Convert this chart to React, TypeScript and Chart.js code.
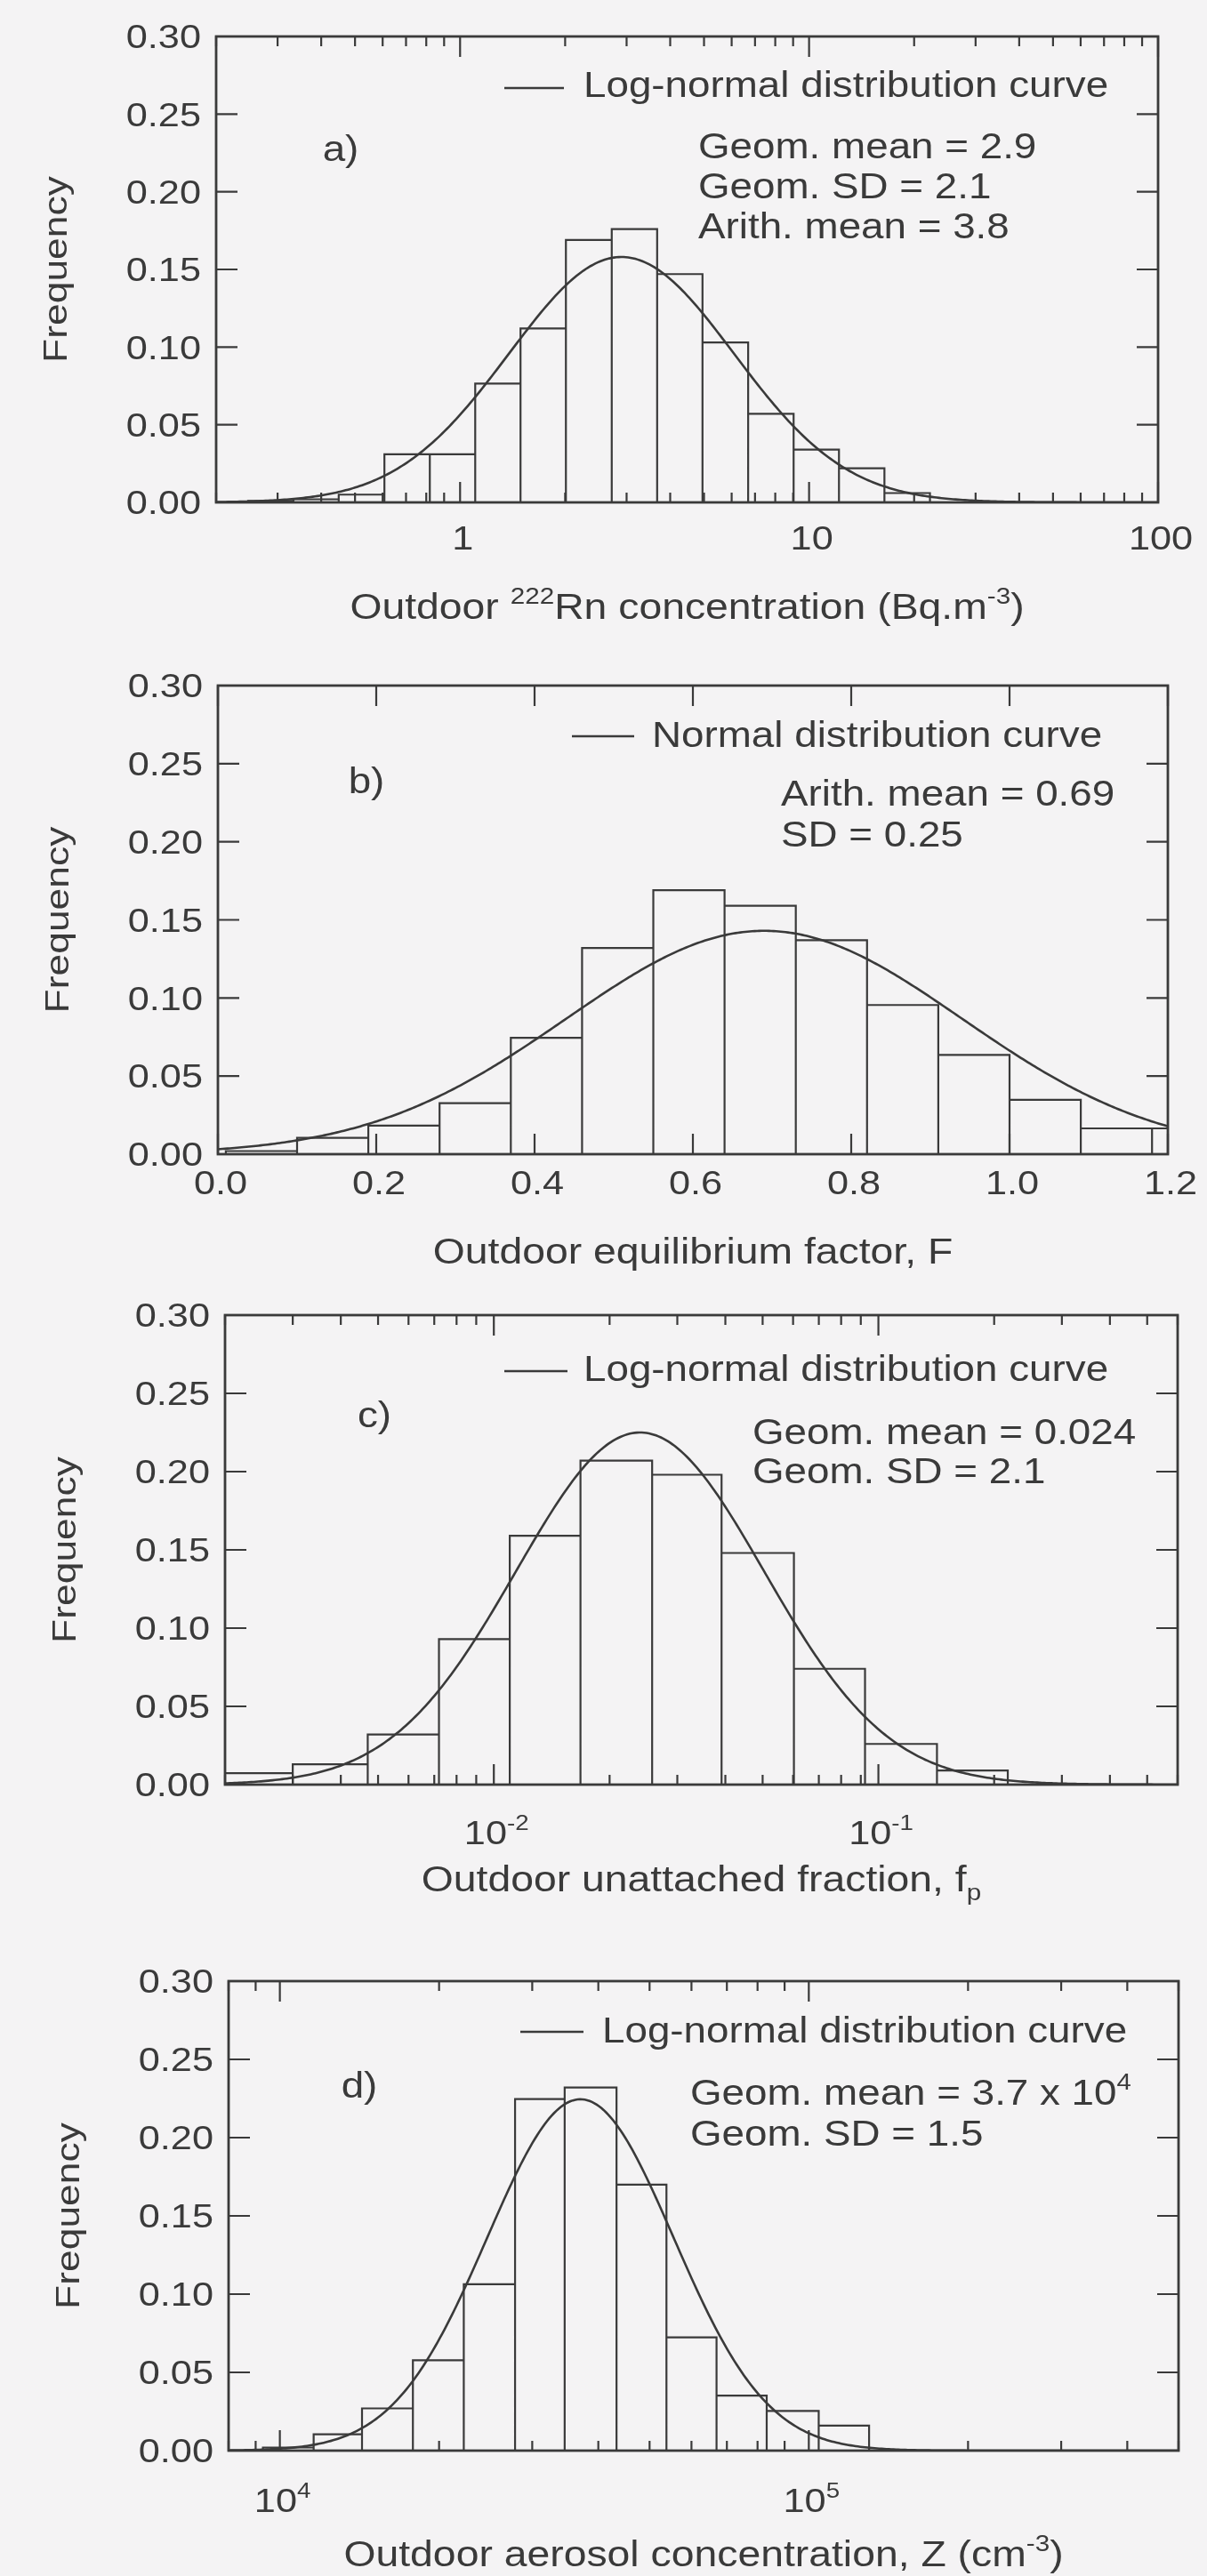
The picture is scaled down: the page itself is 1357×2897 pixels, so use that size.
import { useEffect, useRef } from 'react';
import { Chart, registerables } from 'chart.js';

Chart.register(...registerables);

const PAGE_W = 1357;
const PAGE_H = 2897;
const INK = '#3a3a3a';
const PAPER = '#f4f3f4';
const FONT = '"Liberation Sans", Arial, Helvetica, sans-serif';

// Frequency axis shared by the four histograms
const freqTicks = [0, 0.05, 0.1, 0.15, 0.2, 0.25, 0.3];
const freqTickLabels = ['0.00', '0.05', '0.10', '0.15', '0.20', '0.25', '0.30'];

// a) outdoor 222Rn concentration (Bq.m-3)
const rnEdges = [0.247, 0.333, 0.449, 0.607, 0.819, 1.105, 1.49, 2.01, 2.72, 3.67, 4.95, 6.69, 9.03, 12.18, 16.44, 22.2];
const rnFreq = [0.001, 0.002, 0.005, 0.031, 0.031, 0.0765, 0.112, 0.169, 0.176, 0.147, 0.103, 0.057, 0.034, 0.022, 0.006];
const rnGeomMean = 2.9;
const rnGeomSD = 2.1;
const rnArithMean = 3.8;
const rnCurvePeak = 0.158;
const rnTicks = [1, 10, 100];
const rnTickLabels = ['1', '10', '100'];

// b) outdoor equilibrium factor F
const eqEdges = [0.01, 0.1, 0.19, 0.28, 0.37, 0.46, 0.55, 0.64, 0.73, 0.82, 0.91, 1.0, 1.09, 1.18, 1.27];
const eqFreq = [0.002, 0.0105, 0.0183, 0.0327, 0.0745, 0.132, 0.169, 0.159, 0.137, 0.0955, 0.0636, 0.0348, 0.0165, 0.0165];
const eqMean = 0.69;
const eqSD = 0.25;
const eqCurvePeak = 0.143;
const eqTicks = [0, 0.2, 0.4, 0.6, 0.8, 1.0, 1.2];
const eqTickLabels = ['0.0', '0.2', '0.4', '0.6', '0.8', '1.0', '1.2'];

// c) outdoor unattached fraction fp
const fpEdges = [0.00196, 0.003, 0.0047, 0.0072, 0.011, 0.0168, 0.0258, 0.0391, 0.0603, 0.0923, 0.142, 0.217];
const fpFreq = [0.0073, 0.013, 0.032, 0.093, 0.159, 0.207, 0.198, 0.148, 0.074, 0.026, 0.009];
const fpGeomMean = 0.024;
const fpGeomSD = 2.1;
const fpCurvePeak = 0.225;
const fpTicks = [0.01, 0.1];
const fpTickExponents = ['-2', '-1'];

// d) outdoor aerosol concentration Z (cm-3)
const zEdges = [9290, 11585, 14300, 17845, 22270, 27840, 34550, 43300, 53810, 66920, 83250, 104400, 130000];
const zFreq = [0.002, 0.0104, 0.027, 0.0577, 0.1063, 0.2247, 0.232, 0.17, 0.0724, 0.0352, 0.0253, 0.016];
const zGeomMean = 3.7e4;
const zGeomSD = 1.5;
const zCurvePeak = 0.2245;
const zTicks = [1e4, 1e5];
const zTickExponents = ['4', '5'];

interface Run {
  t: string;
  pos?: 'sup' | 'sub';
}

interface PanelSpec {
  top: number;
  height: number;
  area: [number, number, number, number];
  xType: 'linear' | 'logarithmic';
  xMin: number;
  xMax: number;
  edges: number[];
  freq: number[];
  curve: (x: number) => number;
  majorTicks: number[];
  minorTicks: number[];
  tickLabels: Run[][];
  xLabelBaseline: number;
  xTitle: Run[];
  xTitleBaseline: number;
  yTitleX: number;
  letter: string;
  letterX: number;
  letterBaseline: number;
  legend: string;
  legendLine: [number, number, number];
  legendTextX: number;
  legendBaseline: number;
  stats: Run[][];
  statsX: number;
  statsBaselines: number[];
}

const TEXT_SIZE = 40.5;
const TEXT_SX = 1.13;
const TICK_SIZE = 37;
const TICK_SX = 1.17;
const TITLE_SIZE = 41;
const TITLE_SX = 1.13;
const YTITLE_SIZE = 37;
const YTITLE_SX = 1.2;

const logNormalCurve = (gm: number, gsd: number, peak: number) => (x: number) =>
  peak * Math.exp(-(Math.log(x / gm) ** 2) / (2 * Math.log(gsd) ** 2));
const normalCurve = (mean: number, sd: number, peak: number) => (x: number) =>
  peak * Math.exp(-((x - mean) ** 2) / (2 * sd * sd));

function logMinorTicks(min: number, max: number): number[] {
  const out: number[] = [];
  const e0 = Math.floor(Math.log10(min));
  const e1 = Math.ceil(Math.log10(max));
  for (let e = e0; e <= e1; e++) {
    for (let k = 2; k <= 9; k++) {
      const v = k * Math.pow(10, e);
      if (v >= min * 0.999 && v <= max * 1.001) out.push(v);
    }
  }
  return out;
}

function histogramOutline(edges: number[], freq: number[]) {
  const pts: { x: number; y: number }[] = [];
  freq.forEach((f, i) => {
    pts.push({ x: edges[i], y: 0 }, { x: edges[i], y: f }, { x: edges[i + 1], y: f }, { x: edges[i + 1], y: 0 });
  });
  return pts;
}

function curvePoints(spec: PanelSpec) {
  const n = 400;
  const pts: { x: number; y: number }[] = [];
  for (let i = 0; i <= n; i++) {
    const u = i / n;
    const x =
      spec.xType === 'logarithmic'
        ? Math.pow(10, Math.log10(spec.xMin) + u * (Math.log10(spec.xMax) - Math.log10(spec.xMin)))
        : spec.xMin + u * (spec.xMax - spec.xMin);
    pts.push({ x, y: spec.curve(x) });
  }
  return pts;
}

function drawRuns(
  ctx: CanvasRenderingContext2D,
  runs: Run[],
  x: number,
  y: number,
  size: number,
  align: 'left' | 'center' | 'right',
  sx: number,
) {
  const parts = runs.map((r) => {
    const fs = r.pos ? size * 0.64 : size;
    ctx.font = `${fs}px ${FONT}`;
    return { ...r, fs, w: ctx.measureText(r.t).width * sx };
  });
  const total = parts.reduce((s, p) => s + p.w, 0);
  let cx = align === 'left' ? x : align === 'center' ? x - total / 2 : x - total;
  ctx.textAlign = 'left';
  ctx.textBaseline = 'alphabetic';
  for (const p of parts) {
    const dy = p.pos === 'sup' ? -size * 0.42 : p.pos === 'sub' ? size * 0.24 : 0;
    ctx.font = `${p.fs}px ${FONT}`;
    ctx.save();
    ctx.translate(cx, y + dy);
    ctx.scale(sx, 1);
    ctx.fillText(p.t, 0, 0);
    ctx.restore();
    cx += p.w;
  }
}

function decorations(spec: PanelSpec) {
  return {
    id: 'frameTicksText',
    afterDraw(chart: Chart) {
      const ctx = chart.ctx;
      const xs = chart.scales.x;
      const ys = chart.scales.y;
      const { left, right, top, bottom } = chart.chartArea;
      ctx.save();
      ctx.strokeStyle = INK;
      ctx.fillStyle = INK;

      // inward tick marks on all four sides
      ctx.lineWidth = 2.2;
      ctx.beginPath();
      const xTick = (v: number, len: number) => {
        const px = xs.getPixelForValue(v);
        ctx.moveTo(px, top);
        ctx.lineTo(px, top + len);
        ctx.moveTo(px, bottom);
        ctx.lineTo(px, bottom - len);
      };
      spec.majorTicks.forEach((v) => xTick(v, 23));
      spec.minorTicks.forEach((v) => xTick(v, 11));
      freqTicks.forEach((v) => {
        const py = ys.getPixelForValue(v);
        ctx.moveTo(left, py);
        ctx.lineTo(left + 24, py);
        ctx.moveTo(right, py);
        ctx.lineTo(right - 24, py);
      });
      ctx.stroke();

      // plot frame
      ctx.lineWidth = 2.8;
      ctx.strokeRect(left, top, right - left, bottom - top);

      // frequency tick labels
      freqTicks.forEach((v, i) => {
        const py = ys.getPixelForValue(v);
        drawRuns(ctx, [{ t: freqTickLabels[i] }], left - 17, py + TICK_SIZE * 0.358, TICK_SIZE, 'right', TICK_SX);
      });

      // x tick labels
      spec.majorTicks.forEach((v, i) => {
        const px = xs.getPixelForValue(v);
        drawRuns(ctx, spec.tickLabels[i], px + 3, spec.xLabelBaseline, TICK_SIZE, 'center', TICK_SX);
      });

      // axis titles
      drawRuns(ctx, spec.xTitle, (left + right) / 2, spec.xTitleBaseline, TITLE_SIZE, 'center', TITLE_SX);
      ctx.save();
      ctx.translate(spec.yTitleX, (top + bottom) / 2);
      ctx.rotate(-Math.PI / 2);
      drawRuns(ctx, [{ t: 'Frequency' }], 0, YTITLE_SIZE * 0.3, YTITLE_SIZE, 'center', YTITLE_SX);
      ctx.restore();

      // panel letter
      drawRuns(ctx, [{ t: spec.letter }], spec.letterX, spec.letterBaseline, TEXT_SIZE, 'center', TEXT_SX);

      // legend entry
      const [lx0, lx1, ly] = spec.legendLine;
      ctx.lineWidth = 2.6;
      ctx.beginPath();
      ctx.moveTo(lx0, ly);
      ctx.lineTo(lx1, ly);
      ctx.stroke();
      drawRuns(ctx, [{ t: spec.legend }], spec.legendTextX, spec.legendBaseline, TEXT_SIZE, 'left', TEXT_SX);

      // distribution statistics
      spec.stats.forEach((runs, i) => {
        drawRuns(ctx, runs, spec.statsX, spec.statsBaselines[i], TEXT_SIZE, 'left', TEXT_SX);
      });
      ctx.restore();
    },
  };
}

const panels: PanelSpec[] = [
  {
    top: 0,
    height: 720,
    area: [243, 41, 1302, 565],
    xType: 'logarithmic',
    xMin: 0.2,
    xMax: 100,
    edges: rnEdges,
    freq: rnFreq,
    curve: logNormalCurve(rnGeomMean, rnGeomSD, rnCurvePeak),
    majorTicks: rnTicks,
    minorTicks: logMinorTicks(0.2, 100),
    tickLabels: rnTickLabels.map((t) => [{ t }]),
    xLabelBaseline: 618,
    xTitle: [{ t: 'Outdoor ' }, { t: '222', pos: 'sup' }, { t: 'Rn concentration (Bq.m' }, { t: '-3', pos: 'sup' }, { t: ')' }],
    xTitleBaseline: 696,
    yTitleX: 64,
    letter: 'a)',
    letterX: 383,
    letterBaseline: 181,
    legend: 'Log-normal distribution curve',
    legendLine: [567, 634, 99],
    legendTextX: 656,
    legendBaseline: 109,
    stats: [
      [{ t: `Geom. mean = ${rnGeomMean}` }],
      [{ t: `Geom. SD = ${rnGeomSD}` }],
      [{ t: `Arith. mean = ${rnArithMean}` }],
    ],
    statsX: 785,
    statsBaselines: [178, 223, 268],
  },
  {
    top: 720,
    height: 720,
    area: [245, 51, 1313, 578],
    xType: 'linear',
    xMin: 0,
    xMax: 1.2,
    edges: eqEdges,
    freq: eqFreq,
    curve: normalCurve(eqMean, eqSD, eqCurvePeak),
    majorTicks: eqTicks,
    minorTicks: [],
    tickLabels: eqTickLabels.map((t) => [{ t }]),
    xLabelBaseline: 623,
    xTitle: [{ t: 'Outdoor equilibrium factor, F' }],
    xTitleBaseline: 701,
    yTitleX: 66,
    letter: 'b)',
    letterX: 412,
    letterBaseline: 172,
    legend: 'Normal distribution curve',
    legendLine: [643, 713, 108],
    legendTextX: 733,
    legendBaseline: 120,
    stats: [[{ t: `Arith. mean = ${eqMean}` }], [{ t: `SD = ${eqSD}` }]],
    statsX: 878,
    statsBaselines: [186, 232],
  },
  {
    top: 1440,
    height: 720,
    area: [253, 39, 1324, 567],
    xType: 'logarithmic',
    xMin: 0.002,
    xMax: 0.6,
    edges: fpEdges,
    freq: fpFreq,
    curve: logNormalCurve(fpGeomMean, fpGeomSD, fpCurvePeak),
    majorTicks: fpTicks,
    minorTicks: logMinorTicks(0.002, 0.6),
    tickLabels: fpTickExponents.map((e) => [{ t: '10' }, { t: e, pos: 'sup' }]),
    xLabelBaseline: 634,
    xTitle: [{ t: 'Outdoor unattached fraction, f' }, { t: 'p', pos: 'sub' }],
    xTitleBaseline: 687,
    yTitleX: 74,
    letter: 'c)',
    letterX: 421,
    letterBaseline: 165,
    legend: 'Log-normal distribution curve',
    legendLine: [567, 638, 102],
    legendTextX: 656,
    legendBaseline: 113,
    stats: [[{ t: `Geom. mean = ${fpGeomMean}` }], [{ t: `Geom. SD = ${fpGeomSD}` }]],
    statsX: 846,
    statsBaselines: [184, 228],
  },
  {
    top: 2160,
    height: PAGE_H - 2160,
    area: [257, 68, 1325, 596],
    xType: 'logarithmic',
    xMin: 8000,
    xMax: 5e5,
    edges: zEdges,
    freq: zFreq,
    curve: logNormalCurve(zGeomMean, zGeomSD, zCurvePeak),
    majorTicks: zTicks,
    minorTicks: logMinorTicks(8000, 5e5),
    tickLabels: zTickExponents.map((e) => [{ t: '10' }, { t: e, pos: 'sup' }]),
    xLabelBaseline: 665,
    xTitle: [{ t: 'Outdoor aerosol concentration, Z (cm' }, { t: '-3', pos: 'sup' }, { t: ')' }],
    xTitleBaseline: 726,
    yTitleX: 78,
    letter: 'd)',
    letterX: 404,
    letterBaseline: 199,
    legend: 'Log-normal distribution curve',
    legendLine: [585, 656, 125],
    legendTextX: 677,
    legendBaseline: 137,
    stats: [
      [{ t: `Geom. mean = ${zGeomMean / 1e4} x 10` }, { t: '4', pos: 'sup' }],
      [{ t: `Geom. SD = ${zGeomSD}` }],
    ],
    statsX: 776,
    statsBaselines: [207, 253],
  },
];

function HistogramPanel({ spec }: { spec: PanelSpec }) {
  const ref = useRef<HTMLCanvasElement>(null);
  useEffect(() => {
    const canvas = ref.current;
    if (!canvas) return;
    const [l, t, r, b] = spec.area;
    const chart = new Chart(canvas, {
      type: 'scatter',
      data: {
        datasets: [
          {
            data: histogramOutline(spec.edges, spec.freq),
            showLine: true,
            borderColor: INK,
            borderWidth: 2.2,
            borderJoinStyle: 'miter',
            pointRadius: 0,
            tension: 0,
            clip: 1,
          },
          {
            data: curvePoints(spec),
            showLine: true,
            borderColor: INK,
            borderWidth: 2.6,
            pointRadius: 0,
            tension: 0,
            clip: 1,
          },
        ],
      },
      options: {
        responsive: false,
        animation: false,
        devicePixelRatio: 1,
        events: [],
        layout: { padding: { left: l, top: t, right: PAGE_W - r, bottom: spec.height - b } },
        scales: {
          x: { type: spec.xType, min: spec.xMin, max: spec.xMax, display: false },
          y: { type: 'linear', min: 0, max: 0.3, display: false },
        },
        plugins: { legend: { display: false }, tooltip: { enabled: false }, title: { display: false } },
      },
      plugins: [decorations(spec)],
    } as any);
    return () => chart.destroy();
  }, [spec]);
  return (
    <canvas
      ref={ref}
      width={PAGE_W}
      height={spec.height}
      style={{ position: 'absolute', left: 0, top: spec.top, width: PAGE_W, height: spec.height, display: 'block' }}
    />
  );
}

export default function App() {
  return (
    <div
      style={{
        position: 'absolute',
        left: 0,
        top: 0,
        width: PAGE_W,
        height: PAGE_H,
        background: PAPER,
        overflow: 'hidden',
      }}
    >
      {panels.map((spec) => (
        <HistogramPanel key={spec.letter} spec={spec} />
      ))}
    </div>
  );
}
